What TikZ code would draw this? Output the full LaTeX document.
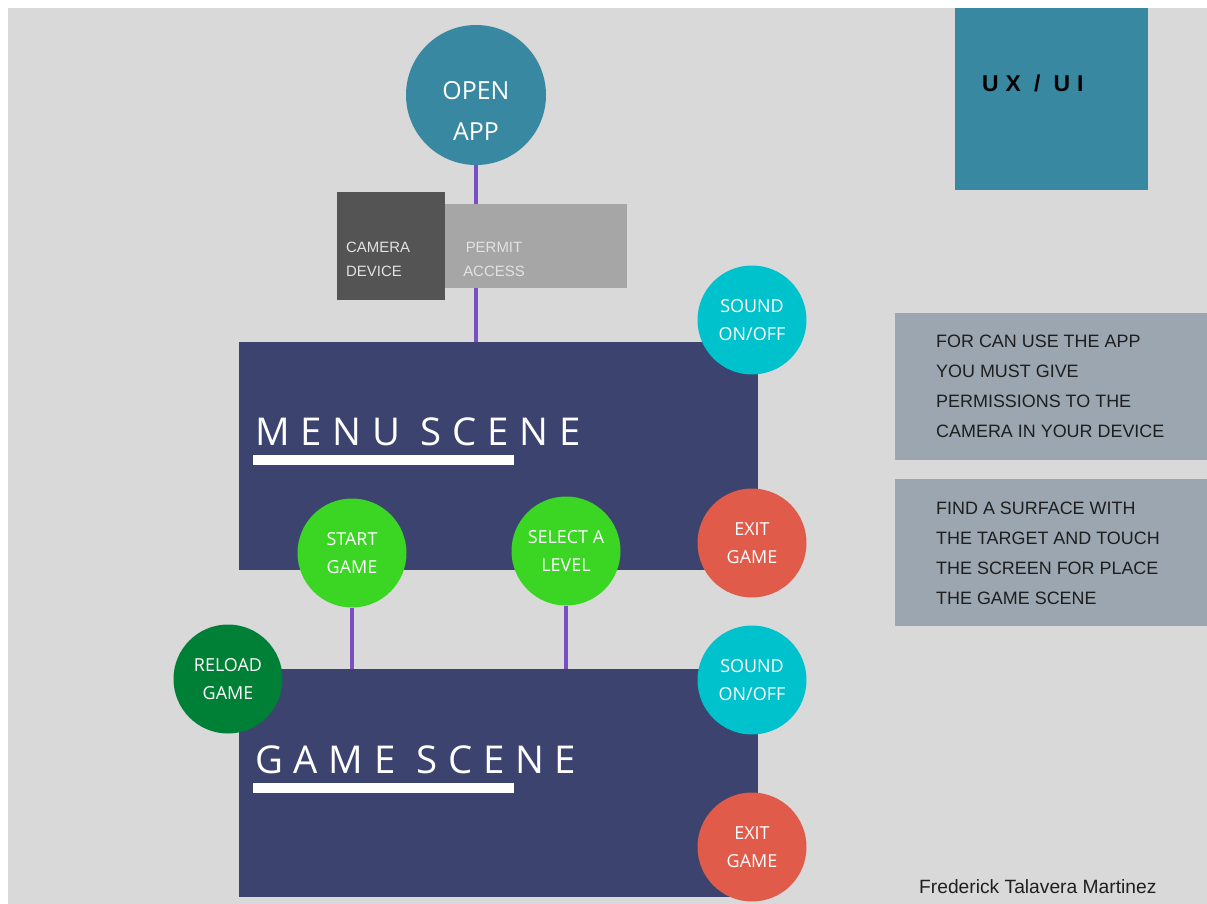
\documentclass[tikz,border=0pt]{standalone}
\usepackage{fontspec}
\setmainfont{Open Sans}
\newfontfamily\armfont{Liberation Sans}
\newfontfamily\trackfont[LetterSpace=28]{Open Sans}
\newfontfamily\uxfont[LetterSpace=30]{Liberation Sans}

\definecolor{bg}{HTML}{D9D9D9}
\definecolor{tealbox}{HTML}{3788A0}
\definecolor{linkpurple}{HTML}{7A4FC4}
\definecolor{darkbox}{HTML}{545454}
\definecolor{permitbox}{HTML}{A6A6A6}
\definecolor{navy}{HTML}{3C436F}
\definecolor{cyanbtn}{HTML}{00C2CC}
\definecolor{redbtn}{HTML}{E05B4A}
\definecolor{greenbtn}{HTML}{3BD523}
\definecolor{darkgreenbtn}{HTML}{007F36}
\definecolor{notegray}{HTML}{9BA6B1}
\definecolor{notetext}{HTML}{1E1E1E}
\definecolor{boxlabel}{HTML}{E2E2E2}

\pgfdeclarelayer{canvas}
\pgfdeclarelayer{links}
\pgfsetlayers{canvas,links,main}

\begin{document}
\begin{tikzpicture}[x=1bp,y=-1bp,
  btn/.style={circle,minimum size=109bp,inner sep=0pt,text=white,align=center,
    font=\fontsize{18}{28}\selectfont},
  scene/.style={fill=navy,minimum width=519bp,minimum height=228bp,inner sep=0pt},
  scenelabel/.style={anchor=base west,inner sep=0pt,text=white,
    font=\trackfont\fontsize{38.5}{38.5}\selectfont},
  link/.style={draw=linkpurple,line width=4.5bp},
  note/.style={fill=notegray,minimum width=312bp,minimum height=147bp,inner sep=0pt},
  notelabel/.style={anchor=north west,align=left,inner sep=0pt,text=notetext,
    font=\armfont\fontsize{18}{30}\selectfont},
  boxtext/.style={align=left,inner sep=0pt,text=boxlabel,
    font=\armfont\fontsize{15}{24}\selectfont}
]
\useasboundingbox (0,0) rectangle (1207,904);
\begin{pgfonlayer}{canvas}
  \fill[white] (0,0) rectangle (1207,904);
  \fill[bg] (8,8) rectangle (1207,904);
\end{pgfonlayer}

% entry point
\node[circle,fill=tealbox,minimum size=140bp,inner sep=0pt] (open) at (476,95) {};
\node[text=white,align=center,inner sep=0pt,font=\fontsize{25}{41}\selectfont]
  (openlbl) at (476,111) {OPEN\\APP};

% permission step
\node[fill=darkbox,minimum width=108bp,minimum height=108bp,inner sep=0pt] (camera) at (391,246) {};
\node[boxtext,anchor=west] (camlbl) at (346,259) {CAMERA\\DEVICE};
\node[fill=permitbox,minimum width=182bp,minimum height=84bp,inner sep=0pt] (permit) at (536,246) {};
\node[boxtext,align=center] (permitlbl) at (494,259) {PERMIT\\ACCESS};

% scenes
\node[scene] (menu) at (498.5,456) {};
\node[scenelabel] (menulbl) at (255,445) {MENU SCENE};
\fill[white] (253,455) rectangle (514,465);

\node[scene] (game) at (498.5,783) {};
\node[scenelabel] (gamelbl) at (255,773) {GAME SCENE};
\fill[white] (253,783) rectangle (514,793);

% buttons
\node[btn,fill=cyanbtn] (sound1) at (752,320) {SOUND\\ON/OFF};
\node[btn,fill=redbtn] (exit1) at (752,543) {EXIT\\GAME};
\node[btn,fill=greenbtn] (start) at (352,553) {START\\GAME};
\node[btn,fill=greenbtn] (select) at (566,551) {SELECT A\\LEVEL};
\node[btn,fill=darkgreenbtn] (reload) at (228,679) {RELOAD\\GAME};
\node[btn,fill=cyanbtn] (sound2) at (752,680) {SOUND\\ON/OFF};
\node[btn,fill=redbtn] (exit2) at (752,847) {EXIT\\GAME};

% connectors
\begin{pgfonlayer}{links}
  \draw[link] (open.south) -- (open |- menu.north);
  \draw[link] (start.south) -- (start |- game.north);
  \draw[link] (select.south) -- (select |- game.north);
\end{pgfonlayer}

% title block
\node[fill=tealbox,minimum width=193bp,minimum height=182bp,inner sep=0pt] (ux) at (1051.5,99) {};
\node[anchor=west,inner sep=0pt,text=black,font=\uxfont\bfseries\fontsize{23}{23}\selectfont]
  (uxlbl) at (982,83) {UX / UI};

% notes
\node[note] (note1) at (1051,386.5) {};
\node[notelabel] (note1lbl) at (936,335) {FOR CAN USE THE APP\\YOU MUST GIVE\\PERMISSIONS TO THE\\CAMERA IN YOUR DEVICE};
\node[note] (note2) at (1051,552.5) {};
\node[notelabel] (note2lbl) at (936,502) {FIND A SURFACE WITH\\THE TARGET AND TOUCH\\THE SCREEN FOR PLACE\\THE GAME SCENE};

% credit
\node[anchor=base west,inner sep=0pt,text=black!88,font=\armfont\fontsize{19.3}{19.3}\selectfont]
  (author) at (919,893) {Frederick Talavera Martinez};
\end{tikzpicture}
\end{document}
